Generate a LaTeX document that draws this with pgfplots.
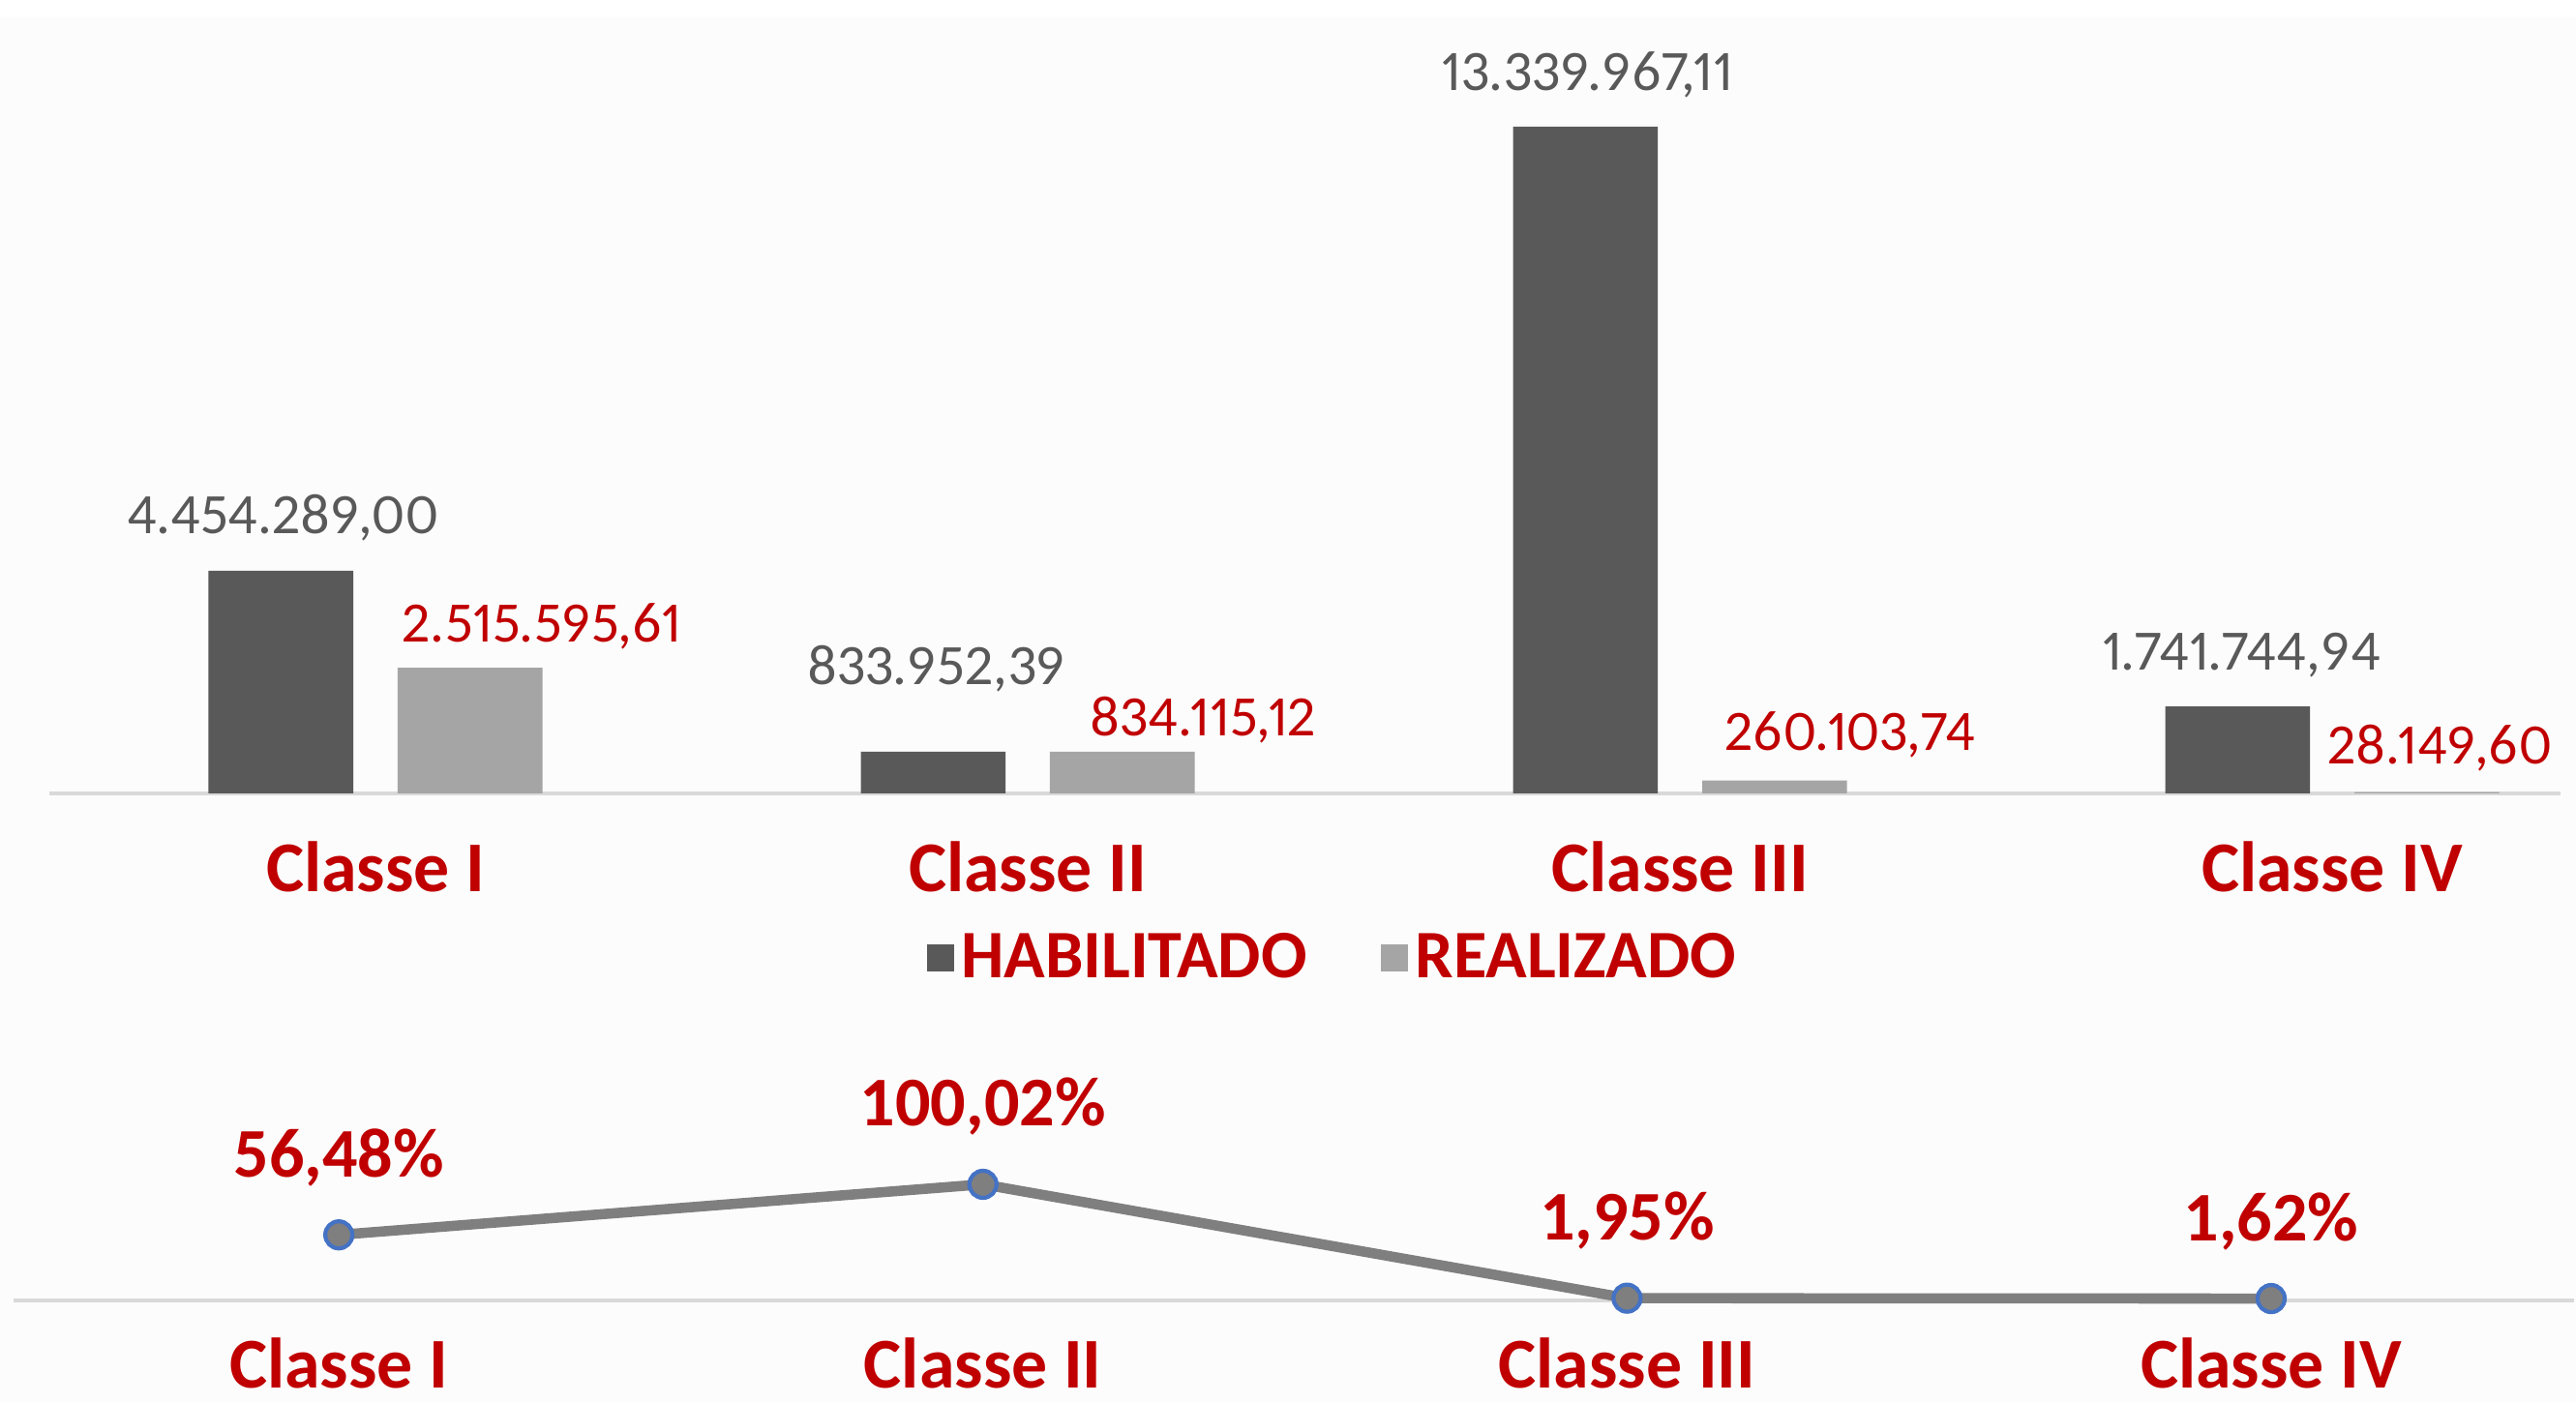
\documentclass[border=0pt]{standalone}
\usepackage{pgfplots}
\pgfplotsset{compat=1.18}
\usepackage{fontspec}
\setmainfont{Carlito}
\newfontfamily\valfam[Numbers=Proportional]{Carlito}
\definecolor{hab}{HTML}{595959}
\definecolor{rea}{HTML}{A5A5A5}
\definecolor{txtred}{HTML}{C00000}
\definecolor{txtgray}{HTML}{595959}
\definecolor{axgray}{HTML}{D9D9D9}
\definecolor{linegray}{HTML}{7F7F7F}
\definecolor{mkblue}{HTML}{4472C4}
\definecolor{bg}{HTML}{FCFCFC}
\newcommand{\catfont}{\fontsize{21}{25}\selectfont\bfseries}
\newcommand{\valfont}{\valfam\fontsize{16.8}{19}\selectfont}
\begin{document}
\begin{tikzpicture}
\useasboundingbox (0,0) rectangle (26.62,14.49);
\clip (0,0) rectangle (26.62,14.49);
\fill[bg] (0,0) rectangle (26.62,14.31);
\begin{axis}[
  at={(0.51cm,6.29cm)}, anchor=south west,
  scale only axis, width=25.95cm, height=7.7475cm,
  xmin=-0.5, xmax=3.35, ymin=0, ymax=15e6, clip=false,
  axis y line=none, axis x line=bottom,
  x axis line style={-, draw=axgray, line width=1.2pt},
  xtick={0,1,2,3}, xticklabels={Classe I,Classe II,Classe III,Classe IV},
  xtick style={draw=none}, major tick length=0pt,
  xticklabel style={font=\catfont, text=txtred, anchor=base, yshift=-1.02cm},
  ybar, bar width=0.222,
  legend style={at={(0.512,-0.219)}, anchor=center, draw=none, fill=none,
    legend columns=2, font=\fontsize{20}{24}\selectfont\bfseries, text=txtred,
    /tikz/every even column/.append style={column sep=0.7cm}, inner sep=0pt},
  legend image code/.code={\fill[#1] (0cm,-0.14cm) rectangle (0.28cm,0.14cm);},
]
\addplot[fill=hab, draw=none, bar shift=-0.145] coordinates {(0,4454289.00) (1,833952.39) (2,13339967.11) (3,1741744.94)};
\addplot[fill=rea, draw=none, bar shift=0.145] coordinates {(0,2515595.61) (1,834115.12) (2,260103.74) (3,28149.60)};
\legend{HABILITADO,REALIZADO}
\node[anchor=base, font=\valfont, text=txtgray] at (axis cs:-0.142,5198000) {4.454.289,00};
\node[anchor=base, font=\valfont, text=txtred] at (axis cs:0.255,3030000) {2.515.595,61};
\node[anchor=base, font=\valfont, text=txtgray] at (axis cs:0.861,2178000) {833.952,39};
\node[anchor=base, font=\valfont, text=txtred] at (axis cs:1.269,1152000) {834.115,12};
\node[anchor=base, font=\valfont, text=txtgray] at (axis cs:1.858,14066000) {13.339.967,11};
\node[anchor=base, font=\valfont, text=txtred] at (axis cs:2.261,862000) {260.103,74};
\node[anchor=base, font=\valfont, text=txtgray] at (axis cs:2.861,2469000) {1.741.744,94};
\node[anchor=base, font=\valfont, text=txtred] at (axis cs:3.165,590000) {28.149,60};
\end{axis}
\begin{axis}[
  at={(0.14cm,1.05cm)}, anchor=south west,
  scale only axis, width=26.458cm, height=1.32cm,
  xmin=-0.505, xmax=3.47, ymin=0, ymax=110, clip=false,
  axis y line=none, axis x line=bottom,
  x axis line style={-, draw=axgray, line width=1.4pt},
  xtick={0,1,2,3}, xticklabels={Classe I,Classe II,Classe III,Classe IV},
  xtick style={draw=none}, major tick length=0pt,
  xticklabel style={font=\catfont, text=txtred, anchor=base, inner sep=0pt, text depth=0pt, yshift=-0.9cm},
  nodes near coords={\pgfmathprintnumber[fixed,fixed zerofill,precision=2,use comma,assume math mode=true]{\pgfplotspointmeta}\%},
  every node near coord/.append style={anchor=base, yshift=0.6cm, font=\fontsize{20.5}{24}\selectfont\bfseries, text=txtred},
]
\addplot[linegray, line width=3pt, mark=*, mark size=0.14cm, mark options={fill=linegray, draw=mkblue, line width=1.2pt}] coordinates {(0,56.48) (1,100.02) (2,1.95) (3,1.62)};
\end{axis}
\end{tikzpicture}
\end{document}
